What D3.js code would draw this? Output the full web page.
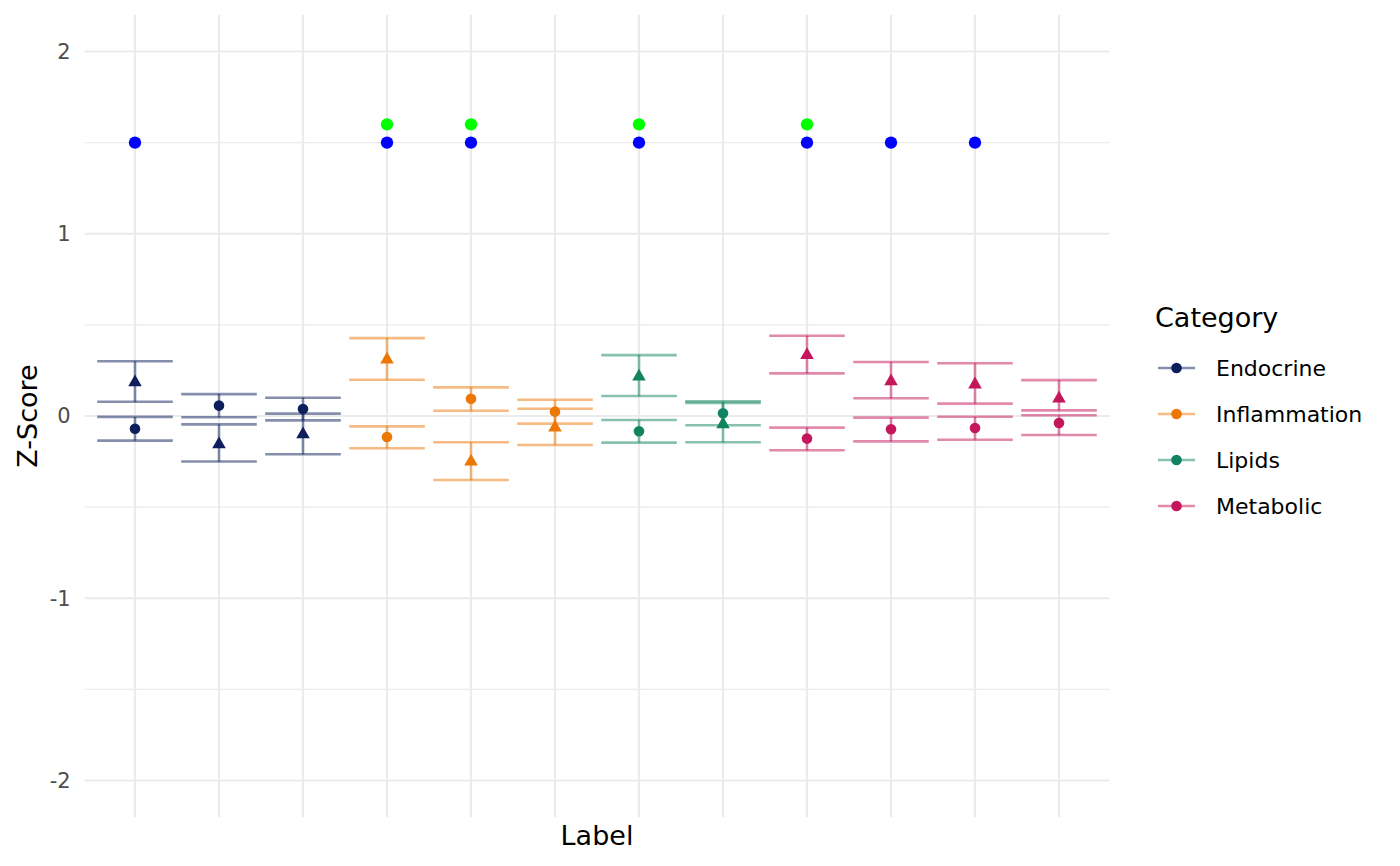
<!DOCTYPE html>
<html>
<head>
<meta charset="utf-8">
<script src="https://cdn.jsdelivr.net/npm/d3@7"></script>
<style>
  body { margin: 0; background: #fff; }
  text { font-family: "DejaVu Sans", sans-serif; }
</style>
</head>
<body>
<svg id="chart" width="1400" height="866"></svg>
<script>
// one entry per x slot (no tick labels are shown on the x axis)
var labels = ["L1", "L2", "L3", "L4", "L5", "L6", "L7", "L8", "L9", "L10", "L11", "L12"];
var labelCategory = ["Endocrine", "Endocrine", "Endocrine",
  "Inflammation", "Inflammation", "Inflammation",
  "Lipids", "Lipids",
  "Metabolic", "Metabolic", "Metabolic", "Metabolic"];

// circle series: mean and interval
var circleMean = [-0.07, 0.057, 0.038, -0.115, 0.095, 0.024, -0.084, 0.015, -0.124, -0.073, -0.066, -0.038];
var circleLow  = [-0.135, -0.007, -0.024, -0.177, 0.029, -0.042, -0.146, -0.051, -0.188, -0.139, -0.13, -0.104];
var circleHigh = [-0.005, 0.12, 0.10, -0.057, 0.157, 0.089, -0.022, 0.08, -0.064, -0.009, -0.004, 0.004];

// triangle series: mean and interval
var triMean = [0.185, -0.155, -0.10, 0.31, -0.25, -0.063, 0.216, -0.045, 0.334, 0.19, 0.173, 0.096];
var triLow  = [0.078, -0.25, -0.21, 0.199, -0.351, -0.159, 0.11, -0.144, 0.234, 0.097, 0.068, 0.031];
var triHigh = [0.30, -0.046, 0.013, 0.427, -0.144, 0.04, 0.334, 0.072, 0.44, 0.296, 0.289, 0.197];

// significance markers
var blueFlag  = [1, 0, 0, 1, 1, 0, 1, 0, 1, 1, 1, 0];
var greenFlag = [0, 0, 0, 1, 1, 0, 1, 0, 1, 0, 0, 0];
var blueLevel = 1.5;
var greenLevel = 1.6;

var categories = ["Endocrine", "Inflammation", "Lipids", "Metabolic"];
var categoryColors = ["#0C1F5C", "#EC7705", "#128360", "#C4165A"];

var yTicks = [-2, -1, 0, 1, 2];
var yMinor = [-1.5, -0.5, 0.5, 1.5];

var svg = d3.select("#chart");

var panel = { left: 84.6, right: 1109.4, top: 15, bottom: 817 };

var x = d3.scalePoint()
  .domain(labels)
  .range([panel.left, panel.right])
  .padding(0.6);
var step = x.step();

var y = d3.scaleLinear()
  .domain([-2.2, 2.2])
  .range([panel.bottom, panel.top]);

var color = d3.scaleOrdinal()
  .domain(categories)
  .range(categoryColors);

// grid
var grid = svg.append("g");
grid.selectAll(".minor")
  .data(yMinor)
  .enter().append("line")
  .attr("x1", panel.left).attr("x2", panel.right)
  .attr("y1", function(d) { return y(d); })
  .attr("y2", function(d) { return y(d); })
  .attr("stroke", "#EBEBEB").attr("stroke-width", 1.1);
grid.selectAll(".major")
  .data(yTicks)
  .enter().append("line")
  .attr("x1", panel.left).attr("x2", panel.right)
  .attr("y1", function(d) { return y(d); })
  .attr("y2", function(d) { return y(d); })
  .attr("stroke", "#EBEBEB").attr("stroke-width", 2.1);
grid.selectAll(".vert")
  .data(labels)
  .enter().append("line")
  .attr("x1", function(d) { return x(d); })
  .attr("x2", function(d) { return x(d); })
  .attr("y1", panel.top).attr("y2", panel.bottom)
  .attr("stroke", "#EBEBEB").attr("stroke-width", 2.1);

// y axis labels
var yAxis = svg.append("g")
  .attr("transform", "translate(" + (panel.left - 14) + ",0)")
  .call(d3.axisLeft(y).tickValues(yTicks).tickSize(0).tickPadding(0)
    .tickFormat(function(d) { return d3.format("d")(d).replace("−", "-"); }));
yAxis.select(".domain").remove();
yAxis.selectAll("text")
  .attr("fill", "#4D4D4D")
  .style("font-size", "21px")
  .style("font-family", "DejaVu Sans");

// axis titles
svg.append("text")
  .attr("x", (panel.left + panel.right) / 2)
  .attr("y", 845)
  .attr("text-anchor", "middle")
  .style("font-size", "27px")
  .text("Label");

svg.append("text")
  .attr("transform", "translate(37," + y(0) + ") rotate(-90)")
  .attr("text-anchor", "middle")
  .style("font-size", "27px")
  .text("Z-Score");

// build rows
var rows = labels.map(function(l, i) {
  return {
    label: l, category: labelCategory[i],
    cm: circleMean[i], cl: circleLow[i], ch: circleHigh[i],
    tm: triMean[i], tl: triLow[i], th: triHigh[i]
  };
});

var capHalf = step * 0.45;

function errorbar(g, low, high) {
  g.append("line")
    .attr("x1", function(d) { return x(d.label); })
    .attr("x2", function(d) { return x(d.label); })
    .attr("y1", function(d) { return y(d[low]); })
    .attr("y2", function(d) { return y(d[high]); });
  [low, high].forEach(function(k) {
    g.append("line")
      .attr("x1", function(d) { return x(d.label) - capHalf; })
      .attr("x2", function(d) { return x(d.label) + capHalf; })
      .attr("y1", function(d) { return y(d[k]); })
      .attr("y2", function(d) { return y(d[k]); });
  });
}

var bars = svg.selectAll(".bar")
  .data(rows)
  .enter().append("g")
  .attr("class", "bar")
  .attr("stroke", function(d) { return color(d.category); })
  .attr("stroke-width", 2.6)
  .attr("stroke-opacity", 0.5);
bars.each(function() {
  var g = d3.select(this);
  errorbar(g, "cl", "ch");
  errorbar(g, "tl", "th");
});

svg.selectAll(".circ")
  .data(rows)
  .enter().append("circle")
  .attr("cx", function(d) { return x(d.label); })
  .attr("cy", function(d) { return y(d.cm); })
  .attr("r", 5.3)
  .attr("fill", function(d) { return color(d.category); });

var tri = d3.symbol().type(d3.symbolTriangle).size(80);
svg.selectAll(".tri")
  .data(rows)
  .enter().append("path")
  .attr("transform", function(d) { return "translate(" + x(d.label) + "," + y(d.tm) + ")"; })
  .attr("d", tri)
  .attr("fill", function(d) { return color(d.category); });

// significance markers
svg.selectAll(".blue")
  .data(labels.filter(function(l, i) { return blueFlag[i]; }))
  .enter().append("circle")
  .attr("cx", function(d) { return x(d); })
  .attr("cy", y(blueLevel))
  .attr("r", 6.2)
  .attr("fill", "#0000FF");

svg.selectAll(".green")
  .data(labels.filter(function(l, i) { return greenFlag[i]; }))
  .enter().append("circle")
  .attr("cx", function(d) { return x(d); })
  .attr("cy", y(greenLevel))
  .attr("r", 6.2)
  .attr("fill", "#00FF00");

// legend
var legend = svg.append("g").attr("transform", "translate(1155,0)");
legend.append("text")
  .attr("x", 0).attr("y", 327)
  .style("font-size", "27px")
  .text("Category");

var item = legend.selectAll(".item")
  .data(categories)
  .enter().append("g")
  .attr("transform", function(d, i) { return "translate(0," + (368 + i * 46) + ")"; });
item.append("line")
  .attr("x1", 3).attr("x2", 40)
  .attr("stroke", function(d) { return color(d); })
  .attr("stroke-width", 2.6)
  .attr("stroke-opacity", 0.5);
item.append("circle")
  .attr("cx", 21.5).attr("r", 5.3)
  .attr("fill", function(d) { return color(d); });
item.append("text")
  .attr("x", 61).attr("dy", "0.35em")
  .style("font-size", "22px")
  .text(function(d) { return d; });
</script>
</body>
</html>
